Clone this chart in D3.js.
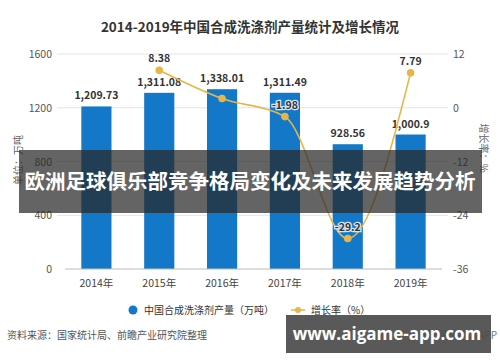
<!DOCTYPE html>
<html lang="zh">
<head>
<meta charset="UTF-8">
<title>合成洗涤剂产量</title>
<script src="https://d3js.org/d3.v7.min.js"></script>
<style>
    body{ margin:0; background:#fff; }
    svg{ display:block; font-family:"Noto Sans CJK SC","Noto Sans",sans-serif; }
</style>
</head>
<body>
<svg id="chart" width="500" height="362"></svg>
<script>
    // data
    let years = ["2014年","2015年","2016年","2017年","2018年","2019年"];
    let output = [1209.73, 1311.08, 1338.01, 1311.49, 928.56, 1000.9];
    let outputLabels = ["1,209.73","1,311.08","1,338.01","1,311.49","928.56","1,000.9"];
    let growth = [null, 8.38, 2.05, -1.98, -29.2, 7.79];
    let growthLabels = ["", "8.38", "", "-1.98", "-29.2", "7.79"];
    let leftTicks = [0, 400, 800, 1200, 1600];
    let rightTicks = [-36, -24, -12, 0, 12];

    const svg = d3.select("#chart");
    const blue = "#1478c8", gold = "#e8b648";

    let x = d3.scaleBand().domain(years).range([65, 442]).paddingInner(0.52).paddingOuter(0.26);
    let yL = d3.scaleLinear().domain([0, 1600]).range([269, 54]);
    let yR = d3.scaleLinear().domain([-36, 12]).range([269, 54]);

    // title
    svg.append("text").attr("x", 250).attr("y", 32).attr("text-anchor","middle")
        .attr("font-size", 13.5).attr("font-weight","bold").attr("fill","#333")
        .text("2014-2019年中国合成洗涤剂产量统计及增长情况");

    // grid
    svg.append("g").selectAll("line").data(leftTicks.filter(d => d > 0)).join("line")
        .attr("x1", 57).attr("x2", 448)
        .attr("y1", d => yL(d)).attr("y2", d => yL(d))
        .attr("stroke", "#e3e3e3");

    // left axis labels
    svg.append("g").selectAll("text").data(leftTicks).join("text")
        .attr("x", 52).attr("y", d => yL(d) + 4).attr("text-anchor","end")
        .attr("font-size", 10.5).attr("fill","#555").text(d => d);
    // right axis labels
    svg.append("g").selectAll("text").data(rightTicks).join("text")
        .attr("x", 453).attr("y", d => yR(d) + 4)
        .attr("font-size", 10.5).attr("fill","#555").text(d => d);

    svg.append("text").attr("transform","translate(22,160) rotate(-90)")
        .attr("text-anchor","middle").attr("font-size", 10).attr("fill","#666").text("单位：万吨");
    svg.append("text").attr("transform","translate(480,148) rotate(90)")
        .attr("text-anchor","middle").attr("font-size", 10).attr("fill","#666").text("增长率：%");

    // bars
    svg.append("g").selectAll("rect").data(output).join("rect")
        .attr("x", (d, i) => x(years[i])).attr("width", x.bandwidth())
        .attr("y", d => yL(d)).attr("height", d => yL(0) - yL(d))
        .attr("fill", blue);
    svg.append("g").selectAll("text").data(output).join("text")
        .attr("x", (d, i) => x(years[i]) + x.bandwidth() / 2)
        .attr("y", d => yL(d) - 7).attr("text-anchor","middle")
        .attr("font-size", 10.5).attr("font-weight","bold").attr("fill","#333")
        .text((d, i) => outputLabels[i]);

    // x axis
    svg.append("line").attr("x1", 65).attr("x2", 442).attr("y1", 269).attr("y2", 269)
        .attr("stroke", "#bbb");
    svg.append("g").selectAll("text").data(years).join("text")
        .attr("x", d => x(d) + x.bandwidth() / 2).attr("y", 287).attr("text-anchor","middle")
        .attr("font-size", 10.5).attr("fill","#444").text(d => d);

    // growth line
    let pts = growth.map((g, i) => ({ g, yr: years[i], lab: growthLabels[i] })).filter(p => p.g !== null);
    let line = d3.line().x(p => x(p.yr) + x.bandwidth() / 2).y(p => yR(p.g)).curve(d3.curveMonotoneX);
    svg.append("path").datum(pts).attr("d", line).attr("fill","none")
        .attr("stroke", gold).attr("stroke-width", 1.6);
    svg.append("g").selectAll("circle").data(pts).join("circle")
        .attr("cx", p => x(p.yr) + x.bandwidth() / 2).attr("cy", p => yR(p.g))
        .attr("r", 3.8).attr("fill", gold);
    svg.append("g").selectAll("text").data(pts.filter(p => p.lab)).join("text")
        .attr("x", p => x(p.yr) + x.bandwidth() / 2)
        .attr("y", p => yR(p.g) - 8).attr("text-anchor","middle")
        .attr("font-size", 10.5).attr("font-weight","bold").attr("fill","#333")
        .attr("paint-order","stroke").attr("stroke", p => p.g < 0 ? "#d8e6f2" : "none").attr("stroke-width", 2.5)
        .text(p => p.lab);

    // legend
    svg.append("circle").attr("cx", 133).attr("cy", 310).attr("r", 4.5).attr("fill", blue);
    svg.append("text").attr("x", 144).attr("y", 314).attr("font-size", 10).attr("fill","#333")
        .text("中国合成洗涤剂产量（万吨）");
    svg.append("line").attr("x1", 291).attr("x2", 305).attr("y1", 310).attr("y2", 310)
        .attr("stroke", gold).attr("stroke-width", 1.6);
    svg.append("circle").attr("cx", 298).attr("cy", 310).attr("r", 3).attr("fill", gold);
    svg.append("text").attr("x", 311).attr("y", 314).attr("font-size", 10).attr("fill","#333")
        .text("增长率（%）");

    // footer
    svg.append("text").attr("x", 7).attr("y", 339).attr("font-size", 10).attr("fill","#555")
        .text("资料来源：国家统计局、前瞻产业研究院整理");
    svg.append("text").attr("x", 497).attr("y", 339).attr("text-anchor","end")
        .attr("font-size", 10).attr("fill","#777")
        .text("@前瞻经济学人APP");

    // overlay banner
    svg.append("rect").attr("x", 19).attr("y", 150).attr("width", 463).attr("height", 63)
        .attr("fill", "rgba(40,40,40,0.72)");
    svg.append("text").attr("x", 250).attr("y", 189).attr("text-anchor","middle")
        .attr("font-size", 20.5).attr("font-weight","bold").attr("fill","#fff")
        .text("欧洲足球俱乐部竞争格局变化及未来发展趋势分析");

    // watermark box
    svg.append("rect").attr("x", 286).attr("y", 315).attr("width", 205).attr("height", 38)
        .attr("fill", "rgba(75,75,75,0.92)");
    svg.append("text").attr("x", 387).attr("y", 340).attr("text-anchor","middle")
        .attr("font-size", 17).attr("font-weight","bold").attr("fill","#fff")
        .attr("font-family","'Open Sans','DejaVu Sans',sans-serif")
        .text("www.aigame-app.com");
</script>
</body>
</html>
